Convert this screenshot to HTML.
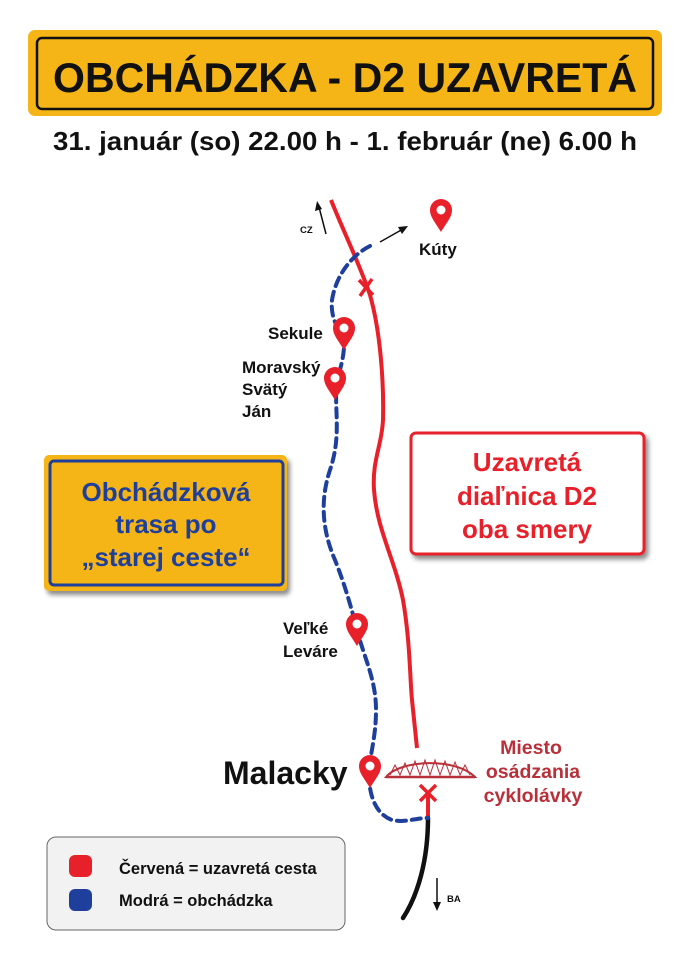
<!DOCTYPE html>
<html><head><meta charset="utf-8"><style>
html,body{margin:0;padding:0;background:#fff;}
svg{display:block;font-family:"Liberation Sans",sans-serif;}
</style></head><body>
<svg width="691" height="960" viewBox="0 0 691 960" xmlns="http://www.w3.org/2000/svg">
<defs>
<filter id="sh" x="-10%" y="-10%" width="130%" height="130%"><feDropShadow dx="3" dy="4" stdDeviation="2.5" flood-color="#000" flood-opacity="0.45"/></filter>
<g id="pin"><path d="M0,0 C-6,-10 -11,-15 -11,-22 A11,11 0 1 1 11,-22 C11,-15 6,-10 0,0Z" fill="#e8202a"/><circle cx="0" cy="-22" r="4.5" fill="#fff"/></g>
</defs>
<rect x="28" y="30" width="634" height="86" rx="7" fill="#f6b517"/>
<rect x="37" y="38" width="616" height="71" rx="5" fill="none" stroke="#111" stroke-width="2.5"/>
<text x="345" y="92" text-anchor="middle" font-size="42" font-weight="bold" fill="#111" textLength="584" lengthAdjust="spacingAndGlyphs">OBCHÁDZKA - D2 UZAVRETÁ</text>
<text x="345" y="150" text-anchor="middle" font-size="26" font-weight="bold" fill="#111" textLength="584" lengthAdjust="spacingAndGlyphs">31. január (so) 22.00 h - 1. február (ne) 6.00 h</text>

<path d="M331,200 C345,235 360,265 370,295 C380,330 384,380 383,420 C382,445 372,460 374,490 C377,530 395,560 403,600 C410,640 410,680 412,700 L417,748" fill="none" stroke="#e8202a" stroke-width="4"/>
<path d="M428,818 L428,795" fill="none" stroke="#e8202a" stroke-width="4"/>
<path d="M428,818 C428,860 418,895 403,918" fill="none" stroke="#111" stroke-width="4.5" stroke-linecap="round"/>
<path d="M359,280 L373,295 M372,279 L360,296" stroke="#e8202a" stroke-width="3.5"/>
<path d="M420,785 L436,801 M436,785 L420,801" stroke="#e8202a" stroke-width="3.5"/>

<path d="M370,246 C352,255 336,275 332,300 C330,320 340,330 344,340 C345,360 337,375 336,390 C336,420 340,440 330,470 C320,500 322,530 335,560 C345,585 352,610 357,630 C365,660 376,680 376,710 C376,740 369,755 369,778 C370,800 378,815 392,820 C405,823 415,818 428,818" fill="none" stroke="#1e3f9b" stroke-width="4" stroke-dasharray="9,6" stroke-linecap="round"/>

<path d="M386,777 C400,760 455,757 475,777 Z" fill="none" stroke="#b8303a" stroke-width="2"/>
<path d="M386,777 L475,777" stroke="#b8303a" stroke-width="2.5"/>
<path d="M390,775 L395,765 L400,775 L405,763 L410,775 L415,761 L420,775 L425,760 L430,775 L435,760 L440,775 L445,761 L450,775 L455,762 L460,775 L465,765 L470,775" fill="none" stroke="#b8303a" stroke-width="1"/>

<use href="#pin" x="441" y="232"/>
<use href="#pin" x="344" y="350"/>
<use href="#pin" x="335" y="400"/>
<use href="#pin" x="357" y="646"/>
<use href="#pin" x="370" y="788"/>

<path d="M326,234 L319,207" stroke="#111" stroke-width="1.5"/><path d="M317,201 L315,211 L322,209Z" fill="#111"/>
<path d="M380,242 L403,229" stroke="#111" stroke-width="1.5"/><path d="M408,226 L398,227 L402,234Z" fill="#111"/>
<path d="M437,878 L437,906" stroke="#111" stroke-width="1.5"/><path d="M437,911 L433,902 L441,902Z" fill="#111"/>

<text x="300" y="233" font-size="9.5" font-weight="bold" fill="#111">CZ</text>
<text x="419" y="255" font-size="17" font-weight="bold" fill="#111">Kúty</text>
<text x="268" y="339" font-size="17" font-weight="bold" fill="#111">Sekule</text>
<text x="242" y="373" font-size="17" font-weight="bold" fill="#111">Moravský</text>
<text x="242" y="395" font-size="17" font-weight="bold" fill="#111">Svätý</text>
<text x="242" y="417" font-size="17" font-weight="bold" fill="#111">Ján</text>
<text x="283" y="634" font-size="17" font-weight="bold" fill="#111">Veľké</text>
<text x="283" y="657" font-size="17" font-weight="bold" fill="#111">Leváre</text>
<text x="223" y="784" font-size="32" font-weight="bold" fill="#111">Malacky</text>
<text x="447" y="902" font-size="9.5" font-weight="bold" fill="#111">BA</text>
<text x="531" y="754" text-anchor="middle" font-size="19.5" font-weight="bold" fill="#b8303a">Miesto</text>
<text x="533" y="778" text-anchor="middle" font-size="19.5" font-weight="bold" fill="#b8303a">osádzania</text>
<text x="533" y="802" text-anchor="middle" font-size="19.5" font-weight="bold" fill="#b8303a">cyklolávky</text>

<rect x="44" y="455" width="243" height="136" rx="5" fill="#f6b517" filter="url(#sh)"/>
<rect x="50" y="461" width="233" height="124" rx="4" fill="none" stroke="#1e3f9b" stroke-width="3"/>
<text x="166" y="501" text-anchor="middle" font-size="26" font-weight="bold" fill="#1e3f9b">Obchádzková</text>
<text x="166" y="533" text-anchor="middle" font-size="26" font-weight="bold" fill="#1e3f9b">trasa po</text>
<text x="166" y="566" text-anchor="middle" font-size="26" font-weight="bold" fill="#1e3f9b">„starej ceste“</text>

<rect x="411" y="433" width="233" height="121" rx="5" fill="#fff" stroke="#e8202a" stroke-width="3" filter="url(#sh)"/>
<text x="527" y="471" text-anchor="middle" font-size="26" font-weight="bold" fill="#e8202a">Uzavretá</text>
<text x="527" y="505" text-anchor="middle" font-size="26" font-weight="bold" fill="#e8202a">diaľnica D2</text>
<text x="527" y="538" text-anchor="middle" font-size="26" font-weight="bold" fill="#e8202a">oba smery</text>

<rect x="47" y="837" width="298" height="93" rx="9" fill="#f2f2f3" stroke="#666" stroke-width="1"/>
<rect x="69" y="855" width="23" height="22" rx="6" fill="#e8202a"/>
<rect x="69" y="889" width="23" height="22" rx="6" fill="#1e3f9b"/>
<text x="119" y="874" font-size="16.5" font-weight="bold" fill="#111">Červená = uzavretá cesta</text>
<text x="119" y="906" font-size="16.5" font-weight="bold" fill="#111">Modrá = obchádzka</text>
</svg>
</body></html>
